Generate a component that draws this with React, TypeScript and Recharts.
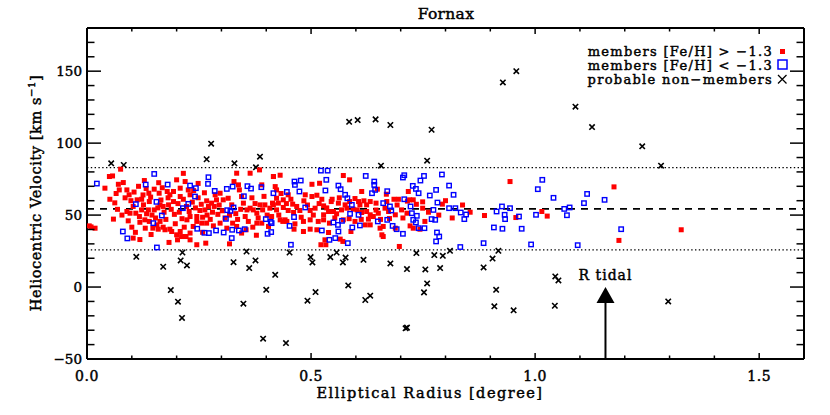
import React from "react";
import {
  ScatterChart,
  Scatter,
  XAxis,
  YAxis,
  ReferenceLine,
  ReferenceDot,
} from "recharts";

// ---- data (x = elliptical radius [deg], y = heliocentric velocity [km/s]) ----
const redMembers: [number, number][] = [
  [0.075, 81.9], [0.050, 76.8], [0.057, 77.2], [0.070, 71.4], [0.081, 72.6], [0.040, 68.7],
  [0.051, 61.0], [0.072, 67.5], [0.089, 67.5], [0.094, 64.1], [0.112, 60.6], [0.122, 61.0],
  [0.126, 57.1], [0.138, 65.2], [0.150, 68.0], [0.139, 59.4], [0.161, 65.2], [0.179, 66.4],
  [0.185, 64.1], [0.193, 66.4], [0.200, 74.5], [0.208, 68.7], [0.219, 73.3], [0.226, 67.5],
  [0.230, 64.1], [0.208, 62.9], [0.193, 59.4], [0.182, 57.1], [0.170, 56.0], [0.163, 57.1],
  [0.150, 53.6], [0.137, 53.6], [0.122, 53.6], [0.103, 56.0], [0.096, 51.3], [0.089, 52.5],
  [0.109, 51.3], [0.117, 49.0], [0.129, 46.7], [0.139, 45.6], [0.130, 40.9], [0.147, 40.9],
  [0.159, 40.2], [0.170, 41.6], [0.185, 40.2], [0.200, 36.3], [0.208, 38.6], [0.217, 41.6],
  [0.223, 46.7], [0.230, 49.0], [0.245, 49.0], [0.252, 53.2], [0.263, 53.6], [0.271, 56.0],
  [0.267, 59.9], [0.278, 58.3], [0.289, 60.6], [0.286, 64.1], [0.297, 65.2], [0.304, 60.6],
  [0.315, 61.7], [0.323, 57.1], [0.334, 79.1], [0.328, 73.3], [0.338, 71.0], [0.340, 67.5],
  [0.345, 62.9], [0.349, 58.3], [0.357, 53.6], [0.364, 54.8], [0.371, 53.6], [0.379, 51.3],
  [0.386, 57.1], [0.390, 71.0], [0.364, 79.1], [0.385, 81.4], [0.416, 76.8], [0.420, 69.8],
  [0.423, 61.7], [0.414, 58.3], [0.423, 53.6], [0.392, 53.6], [0.397, 57.1], [0.408, 54.8],
  [0.405, 42.1], [0.390, 44.4], [0.379, 44.4], [0.370, 41.6], [0.360, 45.6], [0.355, 39.8],
  [0.345, 37.5], [0.334, 42.1], [0.325, 44.4], [0.312, 40.9], [0.297, 44.4], [0.282, 42.5],
  [0.267, 44.4], [0.256, 44.4], [0.245, 45.6], [0.237, 42.1], [0.230, 37.5], [0.221, 35.1],
  [0.211, 35.1], [0.202, 32.8], [0.245, 29.4], [0.230, 32.8], [0.189, 38.6], [0.174, 39.8],
  [0.163, 45.6], [0.156, 43.2], [0.059, 47.2], [0.005, 42.5], [0.018, 40.9], [0.100, 41.6],
  [0.103, 34.0], [0.133, 50.9],
  [0.416, 76.8], [0.431, 77.7], [0.423, 67.5], [0.502, 71.4], [0.519, 72.1], [0.572, 77.5],
  [0.586, 74.5], [0.613, 66.4], [0.648, 68.0], [0.717, 66.4], [0.695, 61.0], [0.715, 59.7],
  [0.720, 60.6], [0.749, 59.2], [0.793, 57.6], [0.416, 57.1], [0.427, 58.3], [0.438, 60.6],
  [0.449, 64.1], [0.459, 57.6], [0.484, 59.9], [0.487, 64.1], [0.502, 62.9], [0.513, 63.8],
  [0.524, 61.0], [0.528, 56.4], [0.545, 59.4], [0.547, 61.0], [0.561, 58.3], [0.576, 57.1],
  [0.586, 59.4], [0.594, 54.1], [0.609, 57.1], [0.606, 59.4], [0.618, 59.9], [0.624, 57.1],
  [0.632, 59.4], [0.645, 58.3], [0.669, 59.4], [0.685, 61.0], [0.728, 60.6], [0.438, 55.3],
  [0.449, 53.2], [0.461, 51.8], [0.475, 53.2], [0.498, 53.2], [0.509, 54.8], [0.528, 50.2],
  [0.539, 52.5], [0.550, 52.5], [0.557, 50.9], [0.568, 53.6], [0.580, 54.8], [0.603, 53.6],
  [0.613, 51.8], [0.624, 52.5], [0.632, 50.2], [0.639, 49.0], [0.650, 51.3], [0.665, 54.8],
  [0.673, 52.5], [0.688, 50.2], [0.702, 53.6], [0.714, 51.3], [0.749, 54.8], [0.754, 45.6],
  [0.431, 46.7], [0.437, 45.6], [0.442, 46.7], [0.446, 45.6], [0.464, 43.9], [0.483, 45.6],
  [0.498, 46.7], [0.516, 45.6], [0.528, 46.7], [0.541, 44.4], [0.572, 46.7], [0.598, 45.6],
  [0.621, 43.2], [0.628, 47.2], [0.632, 43.2], [0.654, 40.9], [0.661, 42.1], [0.675, 47.6],
  [0.688, 40.9], [0.721, 42.5], [0.728, 40.9], [0.743, 40.2], [0.462, 40.2], [0.483, 38.6],
  [0.498, 40.2], [0.513, 39.8], [0.539, 37.9], [0.565, 33.3], [0.571, 31.7], [0.531, 32.8],
  [0.533, 29.4], [0.522, 29.4], [0.658, 36.3], [0.661, 35.1], [0.697, 28.2], [0.589, 38.6],
  [0.944, 73.3], [0.887, 49.7], [0.957, 48.3], [1.015, 52.5], [1.027, 49.3], [1.176, 69.6],
  [1.187, 32.4], [1.326, 39.8], [0.009, 41.8],
  [0.062, 58.5], [0.068, 54.0], [0.078, 50.0], [0.085, 62.0], [0.098, 60.0], [0.105, 66.0],
  [0.115, 70.0], [0.118, 45.0], [0.108, 38.0], [0.092, 46.0], [0.065, 65.0], [0.125, 64.0],
  [0.132, 68.5], [0.142, 62.5], [0.145, 50.0], [0.153, 48.0], [0.158, 55.0], [0.165, 60.5],
  [0.168, 69.0], [0.172, 52.0], [0.176, 47.0], [0.181, 62.0], [0.188, 54.0], [0.195, 50.5],
  [0.197, 44.0], [0.143, 36.5], [0.128, 74.0], [0.160, 72.5], [0.203, 58.0], [0.206, 52.0],
  [0.212, 47.5], [0.215, 61.0], [0.222, 56.0], [0.228, 52.5], [0.235, 59.0], [0.238, 67.0],
  [0.242, 55.0], [0.248, 62.0], [0.255, 57.5], [0.258, 48.5], [0.262, 65.5], [0.268, 50.0],
  [0.275, 47.0], [0.280, 52.0], [0.284, 56.0], [0.292, 50.5], [0.295, 57.0], [0.248, 72.0],
  [0.258, 38.0], [0.215, 79.0], [0.302, 53.0], [0.308, 48.0], [0.318, 50.0], [0.332, 51.0],
  [0.336, 47.0], [0.343, 54.0], [0.353, 49.0], [0.368, 62.0], [0.375, 58.0], [0.382, 48.0],
  [0.395, 63.0], [0.402, 50.0], [0.412, 49.0], [0.428, 50.0], [0.433, 65.0], [0.445, 58.0],
  [0.378, 36.0], [0.455, 61.0], [0.468, 56.0], [0.478, 48.5], [0.492, 57.0], [0.505, 50.0],
  [0.518, 58.0], [0.535, 55.0], [0.553, 48.0], [0.563, 62.0], [0.585, 47.5], [0.598, 61.5],
  [0.612, 47.0], [0.645, 53.5], [0.655, 47.0], [0.668, 64.5], [0.692, 57.0], [0.705, 48.0],
  [0.735, 57.5], [0.762, 52.0], [0.785, 50.0], [0.800, 60.0], [0.815, 48.0], [0.838, 57.0],
  [0.855, 52.0], [0.118, 33.0], [0.183, 31.0], [0.265, 30.5], [0.318, 30.0],
];

const blueMembers: [number, number][] = [
  [0.022, 71.9], [0.131, 71.2], [0.150, 78.6], [0.180, 71.2], [0.230, 70.5], [0.243, 68.7],
  [0.271, 76.3], [0.270, 71.7], [0.285, 66.8], [0.312, 68.2], [0.325, 69.8], [0.358, 70.1],
  [0.366, 68.4], [0.389, 69.4], [0.416, 65.2], [0.109, 57.6], [0.155, 59.2], [0.167, 49.7],
  [0.214, 54.8], [0.226, 57.8], [0.241, 62.9], [0.313, 53.4], [0.320, 52.9], [0.327, 55.3],
  [0.310, 47.4], [0.350, 63.1], [0.080, 38.6], [0.090, 33.8], [0.148, 44.4], [0.156, 27.5],
  [0.246, 40.5], [0.262, 37.7], [0.272, 37.5], [0.288, 39.3], [0.305, 37.9], [0.323, 34.0],
  [0.324, 39.8], [0.339, 39.3], [0.352, 40.2], [0.399, 47.2], [0.410, 45.3], [0.403, 37.0],
  [0.411, 38.2],
  [0.522, 80.9], [0.537, 80.9], [0.463, 73.3], [0.464, 71.0], [0.477, 74.0], [0.534, 74.5],
  [0.561, 70.5], [0.622, 77.2], [0.641, 73.3], [0.641, 71.0], [0.670, 66.6], [0.708, 77.7],
  [0.705, 76.1], [0.727, 70.3], [0.734, 68.2], [0.740, 65.2], [0.744, 74.0], [0.752, 77.2],
  [0.779, 67.5], [0.792, 78.2], [0.808, 70.5], [0.818, 64.1], [0.446, 66.1], [0.474, 66.4],
  [0.532, 67.1], [0.566, 68.0], [0.576, 64.1], [0.581, 61.7], [0.591, 57.1], [0.636, 65.2],
  [0.643, 67.5], [0.661, 58.3], [0.708, 61.0], [0.722, 56.0], [0.765, 63.6], [0.782, 58.7],
  [0.808, 54.8], [0.822, 54.8], [0.834, 51.8], [0.842, 47.2], [0.846, 50.4], [0.487, 55.3],
  [0.412, 44.4], [0.462, 48.6], [0.452, 42.5], [0.550, 44.9], [0.560, 43.2], [0.561, 38.6],
  [0.569, 46.0], [0.587, 50.9], [0.606, 50.2], [0.609, 42.8], [0.592, 41.4], [0.524, 39.3],
  [0.541, 32.8], [0.554, 34.0], [0.582, 30.5], [0.455, 29.4], [0.649, 45.6], [0.670, 46.7],
  [0.676, 56.0], [0.679, 53.2], [0.682, 42.5], [0.691, 40.2], [0.705, 37.0], [0.728, 46.7],
  [0.734, 44.9], [0.740, 40.9], [0.753, 40.9], [0.725, 51.3], [0.736, 49.5], [0.769, 47.2],
  [0.777, 46.7], [0.773, 53.6], [0.781, 37.9], [0.786, 35.1], [0.779, 31.7], [0.833, 27.8],
  [0.914, 52.5], [0.926, 56.0], [0.944, 54.8], [0.932, 50.2], [0.933, 47.2], [0.964, 49.0],
  [0.908, 41.4], [0.927, 40.5], [0.970, 40.5], [1.002, 50.2], [1.006, 68.0], [1.016, 74.5],
  [1.041, 62.0], [1.065, 54.3], [1.077, 55.3], [1.071, 49.9], [1.116, 64.7], [1.109, 58.3],
  [1.155, 60.6], [1.192, 40.2], [0.991, 29.6], [1.095, 29.1], [0.885, 30.5],
];

const nonMembers: [number, number][] = [
  [0.277, 99.6], [0.585, 114.8], [0.604, 116.0], [0.644, 116.5], [0.677, 112.6], [0.769, 109.3],
  [0.928, 142.2], [0.958, 150.0], [1.090, 125.3], [1.127, 111.2], [1.239, 97.8], [1.281, 84.3],
  [0.918, 25.2], [0.905, 19.8], [0.885, 13.6], [0.794, 21.7], [0.810, 25.2], [0.788, 13.2],
  [1.045, 7.4], [1.052, 4.6], [0.913, -1.9], [0.909, -13.4], [0.952, -16.2], [1.044, -13.0],
  [1.297, -10.0], [0.110, 21.0], [0.170, 14.1], [0.187, -2.1], [0.203, -10.2], [0.212, -21.5],
  [0.209, 18.5], [0.213, 24.0], [0.223, 15.0], [0.327, 17.3], [0.349, -11.6], [0.356, 24.7],
  [0.362, 13.2], [0.376, 18.5], [0.400, -1.9], [0.393, -35.9], [0.420, 8.5], [0.444, -38.9],
  [0.452, 24.0], [0.492, -9.5], [0.499, 20.8], [0.503, 17.1], [0.510, -3.5], [0.543, 20.8],
  [0.557, 24.0], [0.571, 17.1], [0.577, 20.5], [0.583, 1.1], [0.617, 18.9], [0.621, -9.0],
  [0.632, -6.0], [0.677, 16.4], [0.711, -28.7], [0.714, -28.2], [0.714, 12.5], [0.735, 23.6],
  [0.752, -3.7], [0.759, 2.5], [0.755, 12.2], [0.775, 22.2], [0.054, 86.0], [0.082, 84.8],
  [0.267, 88.8], [0.329, 86.0], [0.386, 90.6], [0.377, 83.2], [0.656, 84.3], [0.759, 87.8],
];

const meanVelocity = 54.3;
const upperVelocity = 83.0;
const lowerVelocity = 25.8;
const rTidal = 1.157;

const xTicks = [0, 0.1, 0.2, 0.3, 0.4, 0.5, 0.6, 0.7, 0.8, 0.9, 1.0, 1.1, 1.2, 1.3, 1.4, 1.5, 1.6];
const yTicks = [-50, -40, -30, -20, -10, 0, 10, 20, 30, 40, 50, 60, 70, 80, 90, 100, 110, 120, 130, 140, 150, 160, 170, 180];

const FONT = "'DejaVu Serif', 'Liberation Serif', serif";
const TXT = { fontFamily: FONT, fill: "#000", stroke: "#000", strokeWidth: 0.45 } as const;

const toObj = (arr: [number, number][]) => arr.map(([x, y]) => ({ x, y }));

const RedSquare = (p: any) => (
  <rect x={p.cx - 2.5} y={p.cy - 2.5} width={5} height={5} fill="#ff0000" />
);
const BlueSquare = (p: any) => (
  <rect x={p.cx - 2.2} y={p.cy - 2.2} width={4.4} height={4.4} fill="none" stroke="#0000ff" strokeWidth={1.4} />
);
const Cross = (p: any) => (
  <path
    d={`M${p.cx - 2.7},${p.cy - 2.7}L${p.cx + 2.7},${p.cy + 2.7}M${p.cx - 2.7},${p.cy + 2.7}L${p.cx + 2.7},${p.cy - 2.7}`}
    stroke="#000"
    strokeWidth={1.6}
  />
);

const isMajorX = (v: number) => Math.abs(v * 2 - Math.round(v * 2)) < 1e-6;

const BottomTick = (p: any) => {
  const v = p.payload.value;
  const major = isMajorX(v);
  return (
    <g>
      <line x1={p.x} x2={p.x} y1={p.y} y2={p.y - (major ? 6 : 3.5)} stroke="#000" strokeWidth={1.5} />
      {major && (
        <text x={p.x} y={p.y + 22} textAnchor="middle" fontSize={14} letterSpacing={0.5} {...TXT}>
          {v.toFixed(1)}
        </text>
      )}
    </g>
  );
};
const TopTick = (p: any) => {
  const major = isMajorX(p.payload.value);
  return <line x1={p.x} x2={p.x} y1={p.y} y2={p.y + (major ? 6 : 3.5)} stroke="#000" strokeWidth={1.5} />;
};
const LeftTick = (p: any) => {
  const v = p.payload.value;
  const major = v % 50 === 0;
  return (
    <g>
      <line x1={p.x} x2={p.x + (major ? 14 : 7.5)} y1={p.y} y2={p.y} stroke="#000" strokeWidth={1.5} />
      {major && (
        <text x={p.x - 5} y={p.y} dy="0.36em" textAnchor="end" fontSize={13.5} {...TXT}>
          {v < 0 ? `\u2212${Math.abs(v)}` : `${v}`}
        </text>
      )}
    </g>
  );
};
const RightTick = (p: any) => {
  const major = p.payload.value % 50 === 0;
  return <line x1={p.x} x2={p.x - (major ? 14 : 7.5)} y1={p.y} y2={p.y} stroke="#000" strokeWidth={1.5} />;
};

const ArrowHead = (p: any) => (
  <path d={`M${p.cx},${p.cy - 8}L${p.cx + 9},${p.cy + 8}L${p.cx - 9},${p.cy + 8}Z`} fill="#000" />
);
const TidalLabel = (p: any) => (
  <text x={p.cx} y={p.cy} dy="0.35em" textAnchor="middle" fontSize={14} letterSpacing={1} {...TXT}>
    R tidal
  </text>
);

export default function App() {
  return (
    <div style={{ position: "absolute", left: 0, top: 0, width: 830, height: 415, background: "#fff" }}>
      <ScatterChart width={830} height={415} margin={{ top: 27, right: 25, bottom: 26, left: 27 }}>
        <XAxis
          xAxisId="b"
          type="number"
          dataKey="x"
          domain={[0, 1.6]}
          ticks={xTicks}
          interval={0}
          allowDataOverflow
          height={30}
          tickSize={0}
          tickMargin={0}
          tickLine={false}
          axisLine={{ stroke: "#000", strokeWidth: 2 }}
          tick={<BottomTick />}
        />
        <XAxis
          xAxisId="t"
          orientation="top"
          type="number"
          dataKey="x"
          domain={[0, 1.6]}
          ticks={xTicks}
          interval={0}
          allowDataOverflow
          height={1}
          tickSize={0}
          tickMargin={0}
          tickLine={false}
          axisLine={{ stroke: "#000", strokeWidth: 2 }}
          tick={<TopTick />}
        />
        <YAxis
          yAxisId="l"
          type="number"
          dataKey="y"
          domain={[-50, 180]}
          ticks={yTicks}
          interval={0}
          allowDataOverflow
          width={60}
          tickSize={0}
          tickMargin={0}
          tickLine={false}
          axisLine={{ stroke: "#000", strokeWidth: 2 }}
          tick={<LeftTick />}
        />
        <YAxis
          yAxisId="r"
          orientation="right"
          type="number"
          dataKey="y"
          domain={[-50, 180]}
          ticks={yTicks}
          interval={0}
          allowDataOverflow
          width={1}
          tickSize={0}
          tickMargin={0}
          tickLine={false}
          axisLine={{ stroke: "#000", strokeWidth: 2 }}
          tick={<RightTick />}
        />
        <ReferenceLine xAxisId="b" yAxisId="l" y={meanVelocity} stroke="#000" strokeWidth={1.6} strokeDasharray="7 6" />
        <ReferenceLine xAxisId="b" yAxisId="l" y={upperVelocity} stroke="#000" strokeWidth={1.4} strokeDasharray="1.4 2.4" />
        <ReferenceLine xAxisId="b" yAxisId="l" y={lowerVelocity} stroke="#000" strokeWidth={1.4} strokeDasharray="1.4 2.4" />
        <Scatter xAxisId="b" yAxisId="l" data={toObj(nonMembers)} shape={<Cross />} isAnimationActive={false} />
        <Scatter xAxisId="b" yAxisId="l" data={toObj(redMembers)} shape={<RedSquare />} isAnimationActive={false} />
        <Scatter xAxisId="b" yAxisId="l" data={toObj(blueMembers)} shape={<BlueSquare />} isAnimationActive={false} />
        <ReferenceLine
          xAxisId="b"
          yAxisId="l"
          segment={[{ x: rTidal, y: -50 }, { x: rTidal, y: -10 }]}
          stroke="#000"
          strokeWidth={2}
        />
        <ReferenceDot xAxisId="b" yAxisId="l" x={rTidal} y={-5.5} r={8} shape={<ArrowHead />} />
        <ReferenceDot xAxisId="b" yAxisId="l" x={rTidal} y={8.5} r={8} shape={<TidalLabel />} />
      </ScatterChart>
      <svg width={830} height={415} style={{ position: "absolute", left: 0, top: 0, pointerEvents: "none" }}>
        <text x={446} y={19} textAnchor="middle" fontSize={15.5} letterSpacing={0.3} {...TXT}>Fornax</text>
        <text x={430} y={398} textAnchor="middle" fontSize={14.5} letterSpacing={1.5} {...TXT}>
          Elliptical Radius [degree]
        </text>
        <text transform="translate(41,193) rotate(-90)" textAnchor="middle" fontSize={14.5} letterSpacing={0.6} {...TXT}>
          Heliocentric Velocity [km s<tspan dy={-6} fontSize={10}>−1</tspan><tspan dy={6}>]</tspan>
        </text>
        <g textAnchor="end" fontSize={13} letterSpacing={1.3} {...TXT}>
          <text x={773} y={56}>members [Fe/H] &gt; −1.3</text>
          <text x={773} y={69.5}>members [Fe/H] &lt; −1.3</text>
          <text x={773} y={84}>probable non−members</text>
        </g>
        <rect x={780} y={49} width={5} height={5} fill="#ff0000" />
        <rect x={778} y={60} width={9} height={9} fill="none" stroke="#0000ff" strokeWidth={1.5} />
        <path d="M778,75L786.5,83.5M778,83.5L786.5,75" stroke="#000" strokeWidth={1.3} />
      </svg>
    </div>
  );
}
